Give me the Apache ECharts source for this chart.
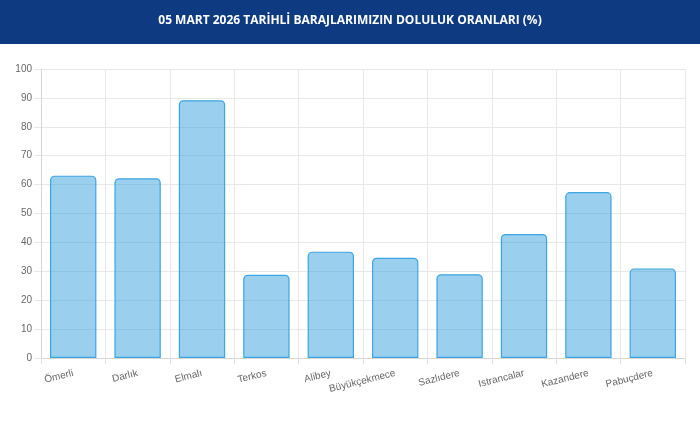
<!DOCTYPE html>
<html>
<head>
<meta charset="utf-8">
<script src="https://cdn.jsdelivr.net/npm/echarts@6/dist/echarts.min.js"></script>
<style>
html,body{margin:0;padding:0;background:#fff;}
#chart{width:700px;height:422px;}
</style>
</head>
<body>
<div id="chart"></div>
<script>
const titleText = '05 MART 2026 TARİHLİ BARAJLARIMIZIN DOLULUK ORANLARI (%)';
const categories = ['Ömerli','Darlık','Elmalı','Terkos','Alibey','Büyükçekmece','Sazlıdere','Istrancalar','Kazandere','Pabuçdere'];
const fillRates = [63.1, 62.2, 89.2, 28.8, 36.8, 34.7, 29.0, 42.9, 57.4, 31.0];
const yTicks = { min: 0, max: 100, interval: 10 };

const chart = echarts.init(document.getElementById('chart'), null, { renderer: 'canvas' });
chart.setOption({
  animation: false,
  backgroundColor: '#ffffff',
  graphic: [{
    type: 'rect', left: 0, top: 0, z: 0,
    shape: { width: 700, height: 44 },
    style: { fill: '#0e3a82' }
  }],
  title: {
    text: titleText,
    left: 'center', top: 14, padding: 0, z: 10,
    textStyle: { color: '#ffffff', fontFamily: 'Open Sans', fontWeight: 'bold', fontSize: 12, lineHeight: 14 }
  },
  grid: { left: 41, right: 15, top: 69, bottom: 64, containLabel: false },
  xAxis: {
    type: 'category',
    data: categories,
    boundaryGap: true,
    axisLine: { show: true, lineStyle: { color: '#d6d6d6', width: 1 } },
    axisTick: { show: true, length: 6, alignWithLabel: false, lineStyle: { color: '#e0e0e0' } },
    splitLine: { show: true, lineStyle: { color: '#e8e8e8', width: 1 } },
    axisLabel: { rotate: 14, margin: 15, interval: 0, color: '#666666', fontFamily: 'Liberation Sans', fontSize: 10 }
  },
  yAxis: {
    type: 'value',
    min: yTicks.min, max: yTicks.max, interval: yTicks.interval,
    axisLine: { show: true, lineStyle: { color: '#d6d6d6', width: 1 } },
    axisTick: { show: true, length: 7, lineStyle: { color: '#e8e8e8' } },
    splitLine: { show: true, lineStyle: { color: '#e8e8e8', width: 1 } },
    axisLabel: { margin: 9, color: '#666666', fontFamily: 'Liberation Sans', fontSize: 10 }
  },
  series: [{
    type: 'bar',
    data: fillRates,
    barCategoryGap: '28%',
    itemStyle: {
      color: 'rgba(54,160,220,0.5)',
      borderColor: 'rgb(60,165,228)',
      borderWidth: 1.2,
      borderRadius: [4, 4, 0, 0]
    }
  }]
});
</script>
</body>
</html>
